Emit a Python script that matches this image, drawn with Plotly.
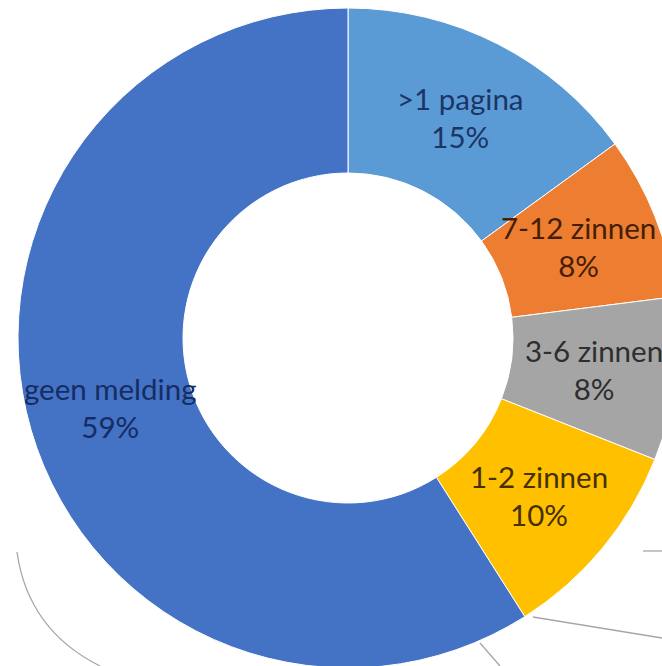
import math
import plotly.graph_objects as go

categories = [">1 pagina", "7-12 zinnen", "3-6 zinnen", "1-2 zinnen", "geen melding"]
values = [15, 8, 8, 10, 59]
slice_colors = ["#5B9BD5", "#ED7D31", "#A5A5A5", "#FFC000", "#4472C4"]
text_colors = ["#1C3566", "#451E06", "#2E2E2E", "#453000", "#152D63"]

HOLE = 0.5
fig = go.Figure(go.Pie(
    labels=categories,
    values=values,
    hole=HOLE,
    sort=False,
    direction="clockwise",
    rotation=0,
    marker=dict(colors=slice_colors, line=dict(color="white", width=1)),
    textposition="none",
    showlegend=False,
    hoverinfo="label+percent",
))

# data labels at the middle of the ring, on each slice's bisecting angle
total = sum(values)
cum = 0.0
rmid = (1 + HOLE) / 2 * 0.5  # in paper units (domain is a square)
for lab, v, col in zip(categories, values, text_colors):
    theta = 2 * math.pi * (cum + v / 2) / total
    cum += v
    fig.add_annotation(
        x=0.5 + rmid * math.sin(theta),
        y=0.5 + rmid * math.cos(theta),
        xref="paper", yref="paper",
        text=f"{lab}<br>{round(100 * v / total)}%",
        showarrow=False,
        font=dict(family="Lato", size=29.5, color=col),
        align="center",
        xanchor="center", yanchor="middle",
    )

# faint leader/arc lines visible in the lower part of the picture
W = 660
L, T = 18, 8
def px(x, y):
    return (x - L) / W, 1 - (y - T) / W

p0, c0, p1 = px(17, 552), px(28, 630), px(100, 666)
arcs = [f"M {p0[0]},{p0[1]} Q {c0[0]},{c0[1]} {p1[0]},{p1[1]}"]
for seg in [((480, 643), (500, 666)), ((533, 617), (662, 638)), ((643, 551), (662, 551))]:
    a, b = px(*seg[0]), px(*seg[1])
    arcs.append(f"M {a[0]},{a[1]} L {b[0]},{b[1]}")
for d in arcs:
    fig.add_shape(type="path", path=d, xref="paper", yref="paper",
                  line=dict(color="#A6A6A6", width=1.3), layer="below")

fig.update_layout(
    width=698, height=678,
    margin=dict(l=L, r=20, t=T, b=10),
    paper_bgcolor="white",
    plot_bgcolor="white",
    font=dict(family="Lato"),
)

fig.write_html(
    "out.html",
    config={"displayModeBar": False},
    post_script="document.body.style.margin='0';document.body.style.overflow='hidden';"
                "document.documentElement.style.overflow='hidden';",
)
